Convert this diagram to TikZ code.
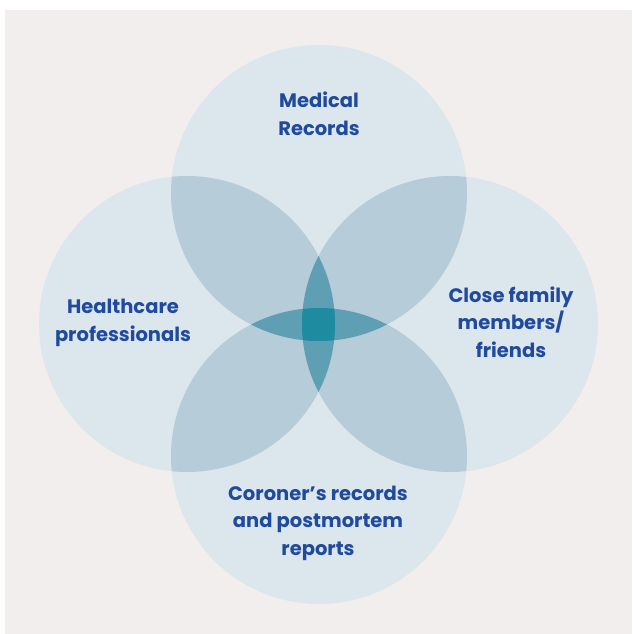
\documentclass[tikz,border=0pt]{standalone}
\usepackage{fontspec}
\setmainfont{Poppins}
\definecolor{bgpink}{HTML}{F2EEEE}
\definecolor{oneblue}{HTML}{DCE6ED}
\definecolor{twoblue}{HTML}{B6CCD8}
\definecolor{threeblue}{HTML}{5E9FB4}
\definecolor{fourblue}{HTML}{1E8BA0}
\definecolor{textblue}{HTML}{1F4A9E}
\begin{document}
\begin{tikzpicture}[
		x=1pt, y=1pt,
		vlabel/.style={text=textblue, font=\bfseries\fontsize{19.5}{27.5}\selectfont, align=center}
	]
	\useasboundingbox (0,0) rectangle (632,634);
	\fill[bgpink] (5,0) rectangle (632,624);
	% circle centres
	\coordinate (med) at (319,441);
	\coordinate (care) at (187,310);
	\coordinate (fam) at (450,310);
	\coordinate (cor) at (319,178);
	% single circles
	\foreach \c in {med,care,fam,cor}
		\fill[oneblue] (\c) circle (148pt);
	% two-fold overlaps
	\foreach \a in {med,cor} {
			\begin{scope}
				\clip (\a) circle (148pt);
				\fill[twoblue] (care) circle (148pt);
				\fill[twoblue] (fam) circle (148pt);
			\end{scope}
		}
	% three-fold overlaps
	\begin{scope}
		\clip (care) circle (148pt);
		\fill[threeblue] (fam) circle (148pt);
	\end{scope}
	\begin{scope}
		\clip (med) circle (148pt);
		\fill[threeblue] (cor) circle (148pt);
	\end{scope}
	% centre
	\begin{scope}
		\clip (care) circle (148pt);
		\clip (fam) circle (148pt);
		\clip (med) circle (148pt);
		\fill[fourblue] (cor) circle (148pt);
	\end{scope}
	% labels
	\node[vlabel] (medtext) at (319,520) {Medical\\Records};
	\node[vlabel] (caretext) at (123,311) {Healthcare\\professionals};
	\node[vlabel] (famtext) at (511,312) {Close family\\members/\\friends};
	\node[vlabel] (cortext) at (318,111) {Coroner’s records\\and postmortem\\reports};
\end{tikzpicture}
\end{document}
